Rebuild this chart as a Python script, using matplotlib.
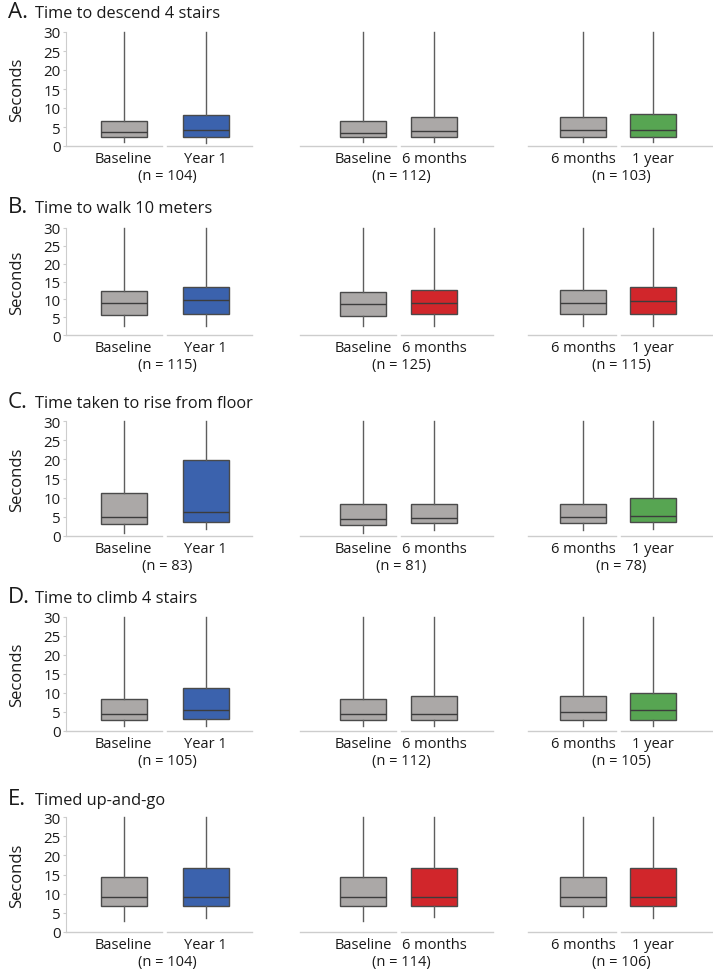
import matplotlib
matplotlib.use('Agg')
import matplotlib.pyplot as plt

plt.rcParams['font.family'] = ['Open Sans', 'DejaVu Sans']

# Panel texts
letters = ['A.', 'B.', 'C.', 'D.', 'E.']
titles = ['Time to descend 4 stairs', 'Time to walk 10 meters',
          'Time taken to rise from floor', 'Time to climb 4 stairs',
          'Timed up-and-go']
pairs = [('Baseline', 'Year 1'), ('Baseline', '6 months'), ('6 months', '1 year')]
n_counts = [[104, 112, 103],
            [115, 125, 115],
            [83, 81, 78],
            [105, 112, 105],
            [104, 114, 106]]

# Box statistics (seconds), rows A-E, columns 1-3, [first box, second box]
whislo = [[[1.0, 0.9], [1.1, 1.1], [1.1, 1.0]],
          [[2.6, 2.6], [2.6, 2.4], [2.4, 2.6]],
          [[0.9, 1.8], [0.9, 1.5], [1.5, 1.8]],
          [[1.4, 1.4], [1.4, 1.4], [1.3, 1.4]],
          [[2.9, 3.6], [2.9, 3.8], [3.8, 3.6]]]
q1 = [[[2.5, 2.5], [2.5, 2.4], [2.4, 2.5]],
      [[5.5, 6.0], [5.3, 5.8], [5.8, 5.8]],
      [[3.1, 3.7], [3.0, 3.3], [3.3, 3.6]],
      [[2.9, 3.2], [2.8, 3.0], [2.8, 3.0]],
      [[6.9, 6.9], [6.8, 6.8], [6.8, 6.8]]]
med = [[[3.6, 4.3], [3.5, 3.9], [4.1, 4.3]],
       [[8.9, 9.7], [8.6, 8.9], [8.9, 9.4]],
       [[5.0, 6.2], [4.5, 4.8], [5.0, 5.3]],
       [[4.6, 5.5], [4.6, 4.6], [4.9, 5.4]],
       [[9.2, 9.2], [9.1, 9.1], [9.1, 9.1]]]
q3 = [[[6.7, 8.2], [6.7, 7.7], [7.7, 8.3]],
      [[12.3, 13.4], [12.0, 12.7], [12.7, 13.4]],
      [[11.1, 19.9], [8.3, 8.3], [8.3, 9.9]],
      [[8.4, 11.2], [8.4, 9.2], [9.2, 10.1]],
      [[14.3, 16.7], [14.3, 16.7], [14.3, 16.7]]]
whishi = [[[30, 30], [30, 30], [30, 30]] for _ in range(5)]

# second box colour per panel
GREY = '#aba8a7'
BLUE = '#3b62ad'
RED = '#d1262b'
GREEN = '#57a552'
second_colour = [[BLUE, GREY, GREEN],
                 [BLUE, RED, RED],
                 [BLUE, GREY, GREEN],
                 [BLUE, GREY, GREEN],
                 [BLUE, RED, RED]]

# layout in pixels
W, H = 713, 970
row_y = [(147, 33), (336, 229), (537, 422), (732, 618), (933, 818)]  # y of 0, y of 30
title_base = [18, 213, 408, 603, 805]
cols = [(66, 252, 123.5, 205.5), (300, 493, 363, 434), (528, 712, 583, 653)]
BOX_PX = 46

fig = plt.figure(figsize=(W / 100, H / 100), dpi=100)

for r in range(5):
    y0, y30 = row_y[r]
    fig.text(8 / W, 1 - title_base[r] / H, letters[r], fontsize=16,
             va='baseline', color='#1a1a1a')
    fig.text(35 / W, 1 - title_base[r] / H, titles[r], fontsize=11.8,
             va='baseline', color='#1a1a1a')
    fig.text(17 / W, 1 - (y0 + y30) / 2 / H, 'Seconds', rotation=90,
             fontsize=12, va='center', ha='center', color='#1a1a1a')

    for c in range(3):
        left, right, p0, p1 = cols[c]
        scale = p1 - p0
        ax = fig.add_axes([left / W, 1 - y0 / H, (right - left) / W, (y0 - y30) / H])
        xlim = ((left - p0) / scale, (right - p0) / scale)

        stats = []
        for k in range(2):
            stats.append(dict(whislo=whislo[r][c][k], q1=q1[r][c][k],
                              med=med[r][c][k], q3=q3[r][c][k],
                              whishi=whishi[r][c][k], label=pairs[c][k]))
        bp = ax.bxp(stats, positions=[0, 1], widths=BOX_PX / scale,
                    patch_artist=True, showfliers=False, showcaps=False,
                    boxprops=dict(edgecolor='#4a4a4a', linewidth=1.0),
                    whiskerprops=dict(color='#5e5e5e', linewidth=1.0),
                    medianprops=dict(color='#3c3c3c', linewidth=1.0))
        bp['boxes'][0].set_facecolor(GREY)
        bp['boxes'][1].set_facecolor(second_colour[r][c])
        for w in bp['whiskers']:
            w.set_clip_on(False)

        ax.set_xlim(*xlim)
        ax.set_ylim(0, 30)
        for s in ['top', 'right', 'bottom']:
            ax.spines[s].set_visible(False)

        # light grey baseline split per category
        gap = 2.5 / scale
        ax.plot([xlim[0], 0.5 - gap], [0, 0], color='#cdcdcd', lw=1, clip_on=False)
        ax.plot([0.5 + gap, xlim[1]], [0, 0], color='#cdcdcd', lw=1, clip_on=False)

        ax.set_xticks([0, 1])
        ax.set_xticklabels(pairs[c])
        ax.tick_params(axis='x', length=0, pad=3.5, labelsize=10.5, labelcolor='#1a1a1a')

        if c == 0:
            ax.spines['left'].set_color('#cdcdcd')
            ax.set_yticks(range(0, 31, 5))
            ax.tick_params(axis='y', length=2, color='#cdcdcd', pad=2,
                           labelsize=10.8, labelcolor='#1a1a1a')
        else:
            ax.spines['left'].set_visible(False)
            ax.set_yticks([])

        ax.annotate('(n = %d)' % n_counts[r][c], xy=(0.5 + 3 / scale, 0),
                    xycoords='data', xytext=(0, -29.5 * 0.72),
                    textcoords='offset points', ha='center', va='center',
                    fontsize=10.5, color='#1a1a1a', annotation_clip=False)

fig.savefig('out.png', dpi=100)
